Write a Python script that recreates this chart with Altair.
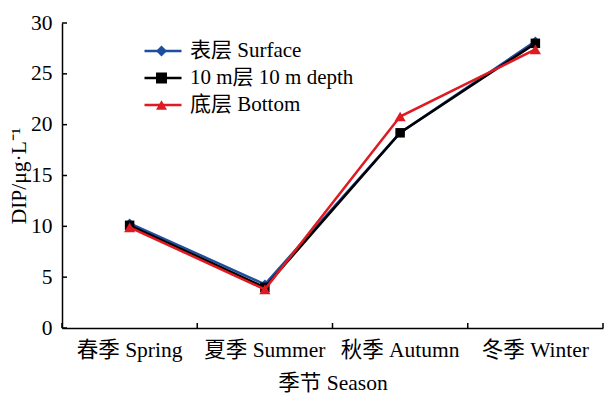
import altair as alt
import pandas as pd

seasons = ["春季 Spring", "夏季 Summer", "秋季 Autumn", "冬季 Winter"]
series_names = ["表层 Surface", "10 m层 10 m depth", "底层 Bottom"]
surface = [10.3, 4.3, 19.2, 28.2]
depth10 = [10.1, 4.0, 19.2, 28.0]
bottom = [9.9, 3.8, 20.8, 27.4]
colors = ["#1F4E9F", "#000000", "#E01A22"]
shapes = ["diamond", "square", "triangle-up"]
y_ticks = [0, 5, 10, 15, 20, 25, 30]

rows = []
for name, vals in zip(series_names, [surface, depth10, bottom]):
    for s, v in zip(seasons, vals):
        rows.append({"season": s, "series": name, "marker": name, "value": v})
df = pd.DataFrame(rows)

FONT = "Times New Roman, Liberation Serif, Noto Sans CJK SC"
W, H = 541, 305
AX_FS = 21.5
LG_FS = 21
ROW_H = 27
LEG_Y = 14.5

xscale = alt.Scale(type="band", paddingInner=0, paddingOuter=0, domain=seasons)
yscale = alt.Scale(domain=[0, 30], nice=False)

x_main = alt.X("season:N", sort=seasons, scale=xscale, bandPosition=0.5,
               axis=alt.Axis(title="季节 Season", labelAngle=0, ticks=False,
                             labelPadding=11, titlePadding=12,
                             domainColor="black", domainWidth=1.5))
y_main = alt.Y("value:Q", scale=yscale,
               axis=alt.Axis(title="DIP/μg·L⁻¹", values=y_ticks, ticks=False, grid=False,
                             labelPadding=10, titlePadding=0,
                             domainColor="black", domainWidth=1.5))

layers = []
for i, name in enumerate(series_names):
    sub = df[df["series"] == name]
    l = alt.Chart(sub).mark_line(strokeWidth=2.5, color=colors[i]).encode(
        x=alt.X("season:N", sort=seasons, scale=xscale, bandPosition=0.5),
        y=alt.Y("value:Q", scale=yscale))
    p = alt.Chart(sub).mark_point(filled=True, size=90 if i != 2 else 125, opacity=1,
                                  color=colors[i], shape=shapes[i]).encode(
        x=alt.X("season:N", sort=seasons, scale=xscale, bandPosition=0.5),
        y=alt.Y("value:Q", scale=yscale))
    layers += [l, p]

legend_lines = alt.Chart(df).mark_line(strokeWidth=2.5, opacity=0).encode(
    x=x_main, y=y_main,
    stroke=alt.Stroke("series:N", sort=series_names,
                      scale=alt.Scale(domain=series_names, range=colors),
                      legend=alt.Legend(title=None, orient="none", legendX=81, legendY=LEG_Y,
                                        symbolType="stroke", symbolSize=1369,
                                        symbolStrokeWidth=2.5, symbolOpacity=1,
                                        labelOffset=7, labelFont=FONT, labelFontSize=LG_FS,
                                        labelLimit=0, labelColor="black", rowPadding=0,
                                        clipHeight=ROW_H, padding=0)),
)
legend_marks = alt.Chart(df).mark_point(filled=True, size=80, opacity=0).encode(
    x=alt.X("season:N", sort=seasons, scale=xscale, bandPosition=0.5),
    y=alt.Y("value:Q", scale=yscale),
    fill=alt.Fill("marker:N", sort=series_names,
                  scale=alt.Scale(domain=series_names, range=colors), legend=None),
    shape=alt.Shape("marker:N", sort=series_names,
                    scale=alt.Scale(domain=series_names, range=shapes),
                    legend=alt.Legend(title=None, orient="none", legendX=89, legendY=LEG_Y,
                                      symbolSize=120, symbolOpacity=1, symbolStrokeWidth=0,
                                      labelExpr="''", labelFontSize=LG_FS,
                                      rowPadding=0, clipHeight=ROW_H, padding=0)),
)

tick_y = pd.DataFrame({"value": y_ticks})
yticks = alt.Chart(tick_y).mark_rule(color="black", strokeWidth=1.5).encode(
    y=alt.Y("value:Q", scale=yscale), x=alt.value(0), x2=alt.value(5))

tick_x = pd.DataFrame({"season": seasons})
xticks = alt.Chart(tick_x).mark_rule(color="black", strokeWidth=1.5).encode(
    x=alt.X("season:N", sort=seasons, scale=xscale, bandPosition=0),
    y=alt.value(H), y2=alt.value(H - 5))
xticks_end = alt.Chart(tick_x.tail(1)).mark_rule(color="black", strokeWidth=1.5).encode(
    x=alt.X("season:N", sort=seasons, scale=xscale, bandPosition=1),
    y=alt.value(H), y2=alt.value(H - 5))

chart = alt.layer(legend_lines, legend_marks, yticks, xticks, xticks_end, *layers).resolve_scale(
    stroke="independent", fill="independent", shape="independent"
).properties(
    width=W, height=H,
    autosize=alt.AutoSizeParams(type="none"),
    padding={"left": 62, "top": 23, "right": 3, "bottom": 66},
).configure_view(stroke="transparent").configure_axis(
    labelFont=FONT, titleFont=FONT, labelFontSize=AX_FS, titleFontSize=AX_FS,
    labelColor="black", titleColor="black", titleFontWeight="normal",
).configure_legend(labelFont=FONT, labelFontSize=LG_FS, labelColor="black")

chart.save("out.html", embed_options={"renderer": "svg", "actions": False})
